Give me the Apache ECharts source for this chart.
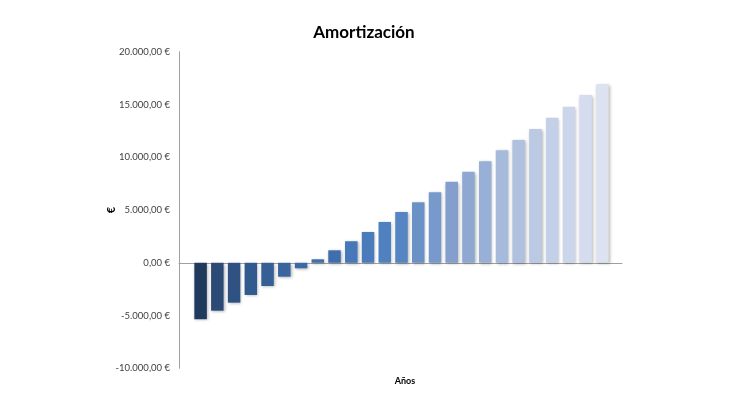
<!DOCTYPE html>
<html>
<head>
<meta charset="utf-8">
<script src="https://cdn.jsdelivr.net/npm/echarts@6/dist/echarts.min.js"></script>
<style>html,body{margin:0;padding:0;background:#fff}#c{width:750px;height:393px}</style>
</head>
<body>
<div id="c"></div>
<script>
var years = [1,2,3,4,5,6,7,8,9,10,11,12,13,14,15,16,17,18,19,20,21,22,23,24,25];
var amortizacion = [-5350,-4540,-3780,-3050,-2200,-1320,-520,330,1180,2040,2920,3870,4810,5730,6680,7680,8630,9620,10660,11630,12680,13750,14790,15900,16940];
var yTicks = [-10000,-5000,0,5000,10000,15000,20000];
var titleText = 'Amortización';
var xName = 'Años';
var yName = '€';

var palette = ['#1f3a5c','#2b4a75','#2f5283','#325a8e','#365f96','#3a649e','#3d69a5','#4170ae','#3f6eaf','#4677b8','#4a7bbb','#4f80bf','#5585c2','#6a92c7','#7799cb','#849fcd','#8ea8d2','#99b0d6','#a6badb','#b0c1df','#bbc9e3','#c4d0e7','#ccd6ea','#d4dcee','#dce2f0'];

function fmt(v){
  var neg = v < 0; var a = Math.abs(v);
  var s = Math.round(a).toString().replace(/\B(?=(\d{3})+(?!\d))/g, '.');
  return (neg ? '-' : '') + s + ',00 €';
}

var chart = echarts.init(document.getElementById('c'));
chart.setOption({
  animation: false,
  title: [
    {text: titleText, left: 359, top: 19, textAlign: 'center',
     textStyle: {fontFamily: 'Lato', fontWeight: 'bold', fontSize: 17, color: '#000'}},
    {text: xName, left: 400, top: 372, textAlign: 'center',
     textStyle: {fontFamily: 'Lato', fontWeight: 'bold', fontSize: 9, color: '#000'}}
  ],
  grid: {left: 179, right: 128, top: 51.7, bottom: 24.7, containLabel: false},
  xAxis: {
    type: 'value', min: -0.29, max: 26.17,
    axisLine: {show: true, onZero: true, lineStyle: {color: '#a0a0a0', width: 1}},
    axisTick: {show: false}, axisLabel: {show: false}, splitLine: {show: false}
  },
  yAxis: {
    type: 'value', min: yTicks[0], max: yTicks[yTicks.length-1], interval: 5000,
    name: yName, nameLocation: 'middle', nameGap: 62, nameRotate: 90, nameMoveOverlap: false,
    nameTextStyle: {fontFamily: 'Lato', fontWeight: 'bold', fontSize: 11, color: '#000'},
    axisLine: {show: true, onZero: false, lineStyle: {color: '#a0a0a0', width: 1}},
    axisTick: {show: false},
    splitLine: {show: false},
    axisLabel: {formatter: fmt, margin: 9, fontFamily: 'Lato', fontSize: 9.5, color: '#404040'}
  },
  series: [{
    type: 'bar',
    barWidth: 12.5,
    data: years.map(function(y, i){
      return {value: [y, amortizacion[i]], itemStyle: {color: palette[i]}};
    }),
    itemStyle: {shadowColor: 'rgba(0,0,0,0.3)', shadowBlur: 3, shadowOffsetX: 1, shadowOffsetY: 1}
  }]
});
</script>
</body>
</html>
